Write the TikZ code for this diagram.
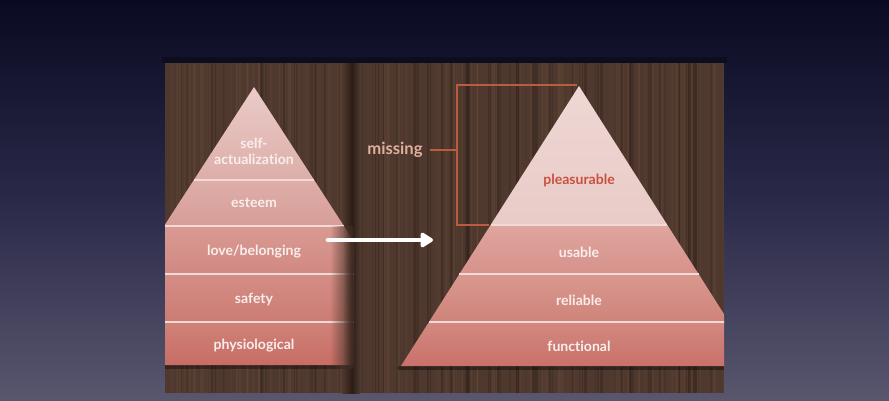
\documentclass[tikz,border=0pt]{standalone}
\usepackage{fontspec}
\setmainfont{Lato}[Ligatures=NoCommon]
\usetikzlibrary{arrows.meta,fadings}
\definecolor{skytop}{HTML}{0A0A22}
\definecolor{skymid}{HTML}{2A2948}
\definecolor{skybot}{HTML}{59576E}
\definecolor{wood}{HTML}{4F382D}
\definecolor{woodlight}{HTML}{6E5140}
\definecolor{wooddark}{HTML}{2B1D17}
\definecolor{layertext}{HTML}{F9EEEC}
\definecolor{sepcolor}{HTML}{F4DAD6}
\definecolor{bracecolor}{HTML}{BA5C3F}
\definecolor{missingcolor}{HTML}{E0B09E}
\definecolor{pleasurecolor}{HTML}{C9503F}
% layer colours, top and bottom of each band
\definecolor{lAt}{HTML}{EACBC8}\definecolor{lAb}{HTML}{DDAEA9}
\definecolor{lBt}{HTML}{DEAEA9}\definecolor{lBb}{HTML}{D79D97}
\definecolor{lCt}{HTML}{D99A93}\definecolor{lCb}{HTML}{D08982}
\definecolor{lDt}{HTML}{D48D85}\definecolor{lDb}{HTML}{CB7C74}
\definecolor{lEt}{HTML}{D08279}\definecolor{lEb}{HTML}{C76D65}
\definecolor{rAt}{HTML}{EED7D4}\definecolor{rAb}{HTML}{E9CBC7}
\definecolor{rBt}{HTML}{DFA59E}\definecolor{rBb}{HTML}{D5928B}
\definecolor{rCt}{HTML}{D9988F}\definecolor{rCb}{HTML}{CE837A}
\definecolor{rDt}{HTML}{D38980}\definecolor{rDb}{HTML}{C8716A}
\tikzfading[name=seamfade, left color=transparent!100, right color=transparent!0]
\tikzset{
  layer/.style={font=\fontsize{8}{9}\selectfont\bfseries, text=layertext, align=center, inner sep=1pt},
  sepline/.style={draw=sepcolor, line width=1.1pt},
  braceline/.style={draw=bracecolor, line width=0.9pt},
  flowarrow/.style={-{Triangle[length=8pt,width=9.5pt,round]}, draw=white, line width=2.6pt, line cap=round}
}

\begin{document}
\begin{tikzpicture}[x=0.02cm, y=-0.02cm]
% background
\shade[top color=skytop, bottom color=skybot, middle color=skymid] (0,0) rectangle (889,400);
\useasboundingbox (0,0) rectangle (889,400);
% board
\fill[black, opacity=0.3] (162,57) rectangle (727,63);
\fill[wood] (165,63) rectangle (724,393);
\begin{scope}
  \clip (165,63) rectangle (724,393);
  \pgfmathsetseed{17}
  \foreach \i in {1,...,110}{
    \pgfmathsetmacro{\sx}{165+559*rnd}
    \pgfmathsetmacro{\sw}{0.6+3*rnd}
    \pgfmathsetmacro{\so}{0.08+0.22*rnd}
    \fill[woodlight, opacity=\so] (\sx,63) rectangle ({\sx+\sw},393);
  }
  \foreach \i in {1,...,90}{
    \pgfmathsetmacro{\sx}{165+559*rnd}
    \pgfmathsetmacro{\sw}{0.6+2.5*rnd}
    \pgfmathsetmacro{\so}{0.10+0.30*rnd}
    \fill[wooddark, opacity=\so] (\sx,63) rectangle ({\sx+\sw},393);
  }
\end{scope}
% seam between the boards
\shade[left color=wood, right color=wooddark] (342,63) rectangle (352,393);
\shade[left color=wooddark, right color=wood] (352,63) rectangle (360,393);
% left pyramid
\begin{scope}
  \clip (165,63) rectangle (353,393);
  \fill[black, opacity=0.35] (160,365) rectangle (353,369);
  \foreach \ya/\yb/\ca/\cb in {87/180/lAt/lAb, 180/226/lBt/lBb, 226/274/lCt/lCb, 274/322/lDt/lDb, 322/365/lEt/lEb}
    \shade[top color=\ca, bottom color=\cb] ({254-0.647*(\ya-87)},\ya) -- ({254+0.647*(\ya-87)},\ya) -- ({254+0.647*(\yb-87)},\yb) -- ({254-0.647*(\yb-87)},\yb) -- cycle;
  \foreach \y in {180,226,274,322}
    \draw[sepline] ({254-0.647*(\y-87)},\y) -- ({254+0.647*(\y-87)},\y);
  \fill[wood, path fading=seamfade] (330,226) rectangle (353,369);
  \fill[wooddark, opacity=0.6, path fading=seamfade] (343,226) rectangle (353,369);
\end{scope}
\node[layer] (selfact) at (254,151) {self-\\actualization};
\node[layer] (esteem) at (254,203) {esteem};
\node[layer] (love) at (254,252) {love/belonging};
\node[layer] (safety) at (254,299) {safety};
\node[layer] (physio) at (254,346) {physiological};
% right pyramid
\begin{scope}
  \clip (357,63) rectangle (724,393);
  \fill[black, opacity=0.35] (398,366) rectangle (724,370);
  \foreach \ya/\yb/\ca/\cb in {86/225/rAt/rAb, 225/274/rBt/rBb, 274/322/rCt/rCb, 322/366/rDt/rDb}
    \shade[top color=\ca, bottom color=\cb] ({579-0.636*(\ya-86)},\ya) -- ({579+0.636*(\ya-86)},\ya) -- ({579+0.636*(\yb-86)},\yb) -- ({579-0.636*(\yb-86)},\yb) -- cycle;
  \foreach \y in {225,274,322}
    \draw[sepline] ({579-0.636*(\y-86)},\y) -- ({579+0.636*(\y-86)},\y);
\end{scope}
\node[layer, text=pleasurecolor] (pleasurable) at (579,180) {pleasurable};
\node[layer] (usable) at (579,252) {usable};
\node[layer] (reliable) at (579,300) {reliable};
\node[layer] (functional) at (579,346) {functional};
% missing bracket
\node[font=\fontsize{9.5}{11}\selectfont\bfseries, text=missingcolor, inner sep=2pt] (missing) at (395,150) {missing};
\coordinate (bracetop) at (577,85);
\coordinate (bracetopleft) at (457,85);
\coordinate (bracemid) at (457,150);
\coordinate (bracebotleft) at (457,225);
\coordinate (bracebot) at (489,225);
\draw[braceline] (bracetop) -- (bracetopleft) -- (bracebotleft) -- (bracebot);
\draw[braceline] ([xshift=2pt]missing.east) -- (bracemid);
% arrow
\coordinate (arrowfrom) at (328,240);
\coordinate (arrowto) at (433,240);
\draw[flowarrow] (arrowfrom) -- (arrowto);
\end{tikzpicture}
\end{document}
